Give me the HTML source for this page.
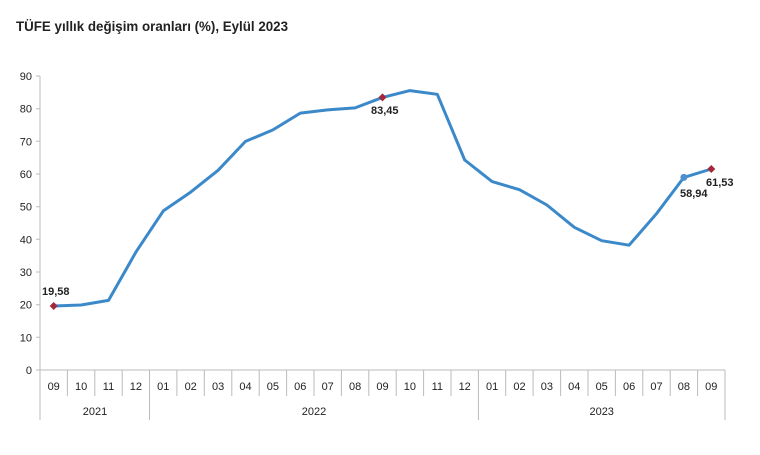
<!DOCTYPE html>
<html><head><meta charset="utf-8"><style>
body{margin:0;background:#fff;width:760px;height:450px;overflow:hidden}
svg text{font-family:"Liberation Sans",sans-serif;fill:#222}
</style></head><body>
<svg width="760" height="450" viewBox="0 0 760 450" xmlns="http://www.w3.org/2000/svg">
<text x="16" y="31" font-size="14" font-weight="bold" textLength="272" lengthAdjust="spacingAndGlyphs">TÜFE yıllık değişim oranları (%), Eylül 2023</text>
<g stroke="#bbb" stroke-width="1" fill="none">
<line x1="40" y1="76" x2="40" y2="370"/>
<line x1="40" y1="370" x2="725" y2="370"/>
<path d="M36 76H40M36 108.7H40M36 141.3H40M36 174H40M36 206.7H40M36 239.3H40M36 272H40M36 304.7H40M36 337.3H40M36 370H40"/>
<path d="M67.4 370V396M94.8 370V396M122.2 370V396M176.9 370V396M204.3 370V396M231.8 370V396M259.2 370V396M286.6 370V396M314 370V396M341.4 370V396M368.8 370V396M396.2 370V396M423.6 370V396M451 370V396M505.7 370V396M533.1 370V396M560.6 370V396M588 370V396M615.4 370V396M642.8 370V396M670.2 370V396M697.6 370V396"/>
<path d="M40 370V420M149.5 370V420M478.4 370V420M725 370V420"/>
</g>
<g font-size="11" text-anchor="end">
<text x="32" y="80">90</text><text x="32" y="112.7">80</text><text x="32" y="145.3">70</text><text x="32" y="178">60</text><text x="32" y="210.7">50</text><text x="32" y="243.3">40</text><text x="32" y="276">30</text><text x="32" y="308.7">20</text><text x="32" y="341.3">10</text><text x="32" y="374">0</text>
</g>
<g font-size="11" text-anchor="middle">
<text x="53.7" y="390">09</text><text x="81.1" y="390">10</text><text x="108.5" y="390">11</text><text x="135.9" y="390">12</text>
<text x="163.3" y="390">01</text><text x="190.7" y="390">02</text><text x="218.1" y="390">03</text><text x="245.5" y="390">04</text><text x="272.9" y="390">05</text><text x="300.3" y="390">06</text><text x="327.7" y="390">07</text><text x="355.1" y="390">08</text><text x="382.5" y="390">09</text><text x="409.9" y="390">10</text><text x="437.3" y="390">11</text><text x="464.7" y="390">12</text>
<text x="492.1" y="390">01</text><text x="519.5" y="390">02</text><text x="546.9" y="390">03</text><text x="574.3" y="390">04</text><text x="601.7" y="390">05</text><text x="629.1" y="390">06</text><text x="656.5" y="390">07</text><text x="683.9" y="390">08</text><text x="711.3" y="390">09</text>
<text x="95" y="415">2021</text><text x="314" y="415">2022</text><text x="601.7" y="415">2023</text>
</g>
<polyline fill="none" stroke="#3b89c9" stroke-width="3" stroke-linejoin="round" points="53.7,306 81.1,305 108.5,300.4 135.9,252.1 163.3,210.9 190.7,192.1 218.1,170.3 245.5,141.4 272.9,129.9 300.3,113.1 327.7,109.9 355.1,107.9 382.5,97.4 409.9,90.6 437.3,94.3 464.7,160 492.1,181.6 519.5,189.7 546.9,205 574.3,227.3 601.7,240.7 629.1,245.2 656.5,213.7 683.9,177.4 711.3,169"/>
<g fill="#a3283a">
<path d="M53.7 302l4 4-4 4-4-4z"/><path d="M382.5 93.4l4 4-4 4-4-4z"/><path d="M711.3 165l4 4-4 4-4-4z"/>
</g>
<circle cx="683.9" cy="177.4" r="3.5" fill="#4f8fd0"/>
<g font-size="11" font-weight="bold">
<text x="42" y="295">19,58</text><text x="371" y="114">83,45</text><text x="680" y="197">58,94</text><text x="706" y="186">61,53</text>
</g>
</svg>
</body></html>
